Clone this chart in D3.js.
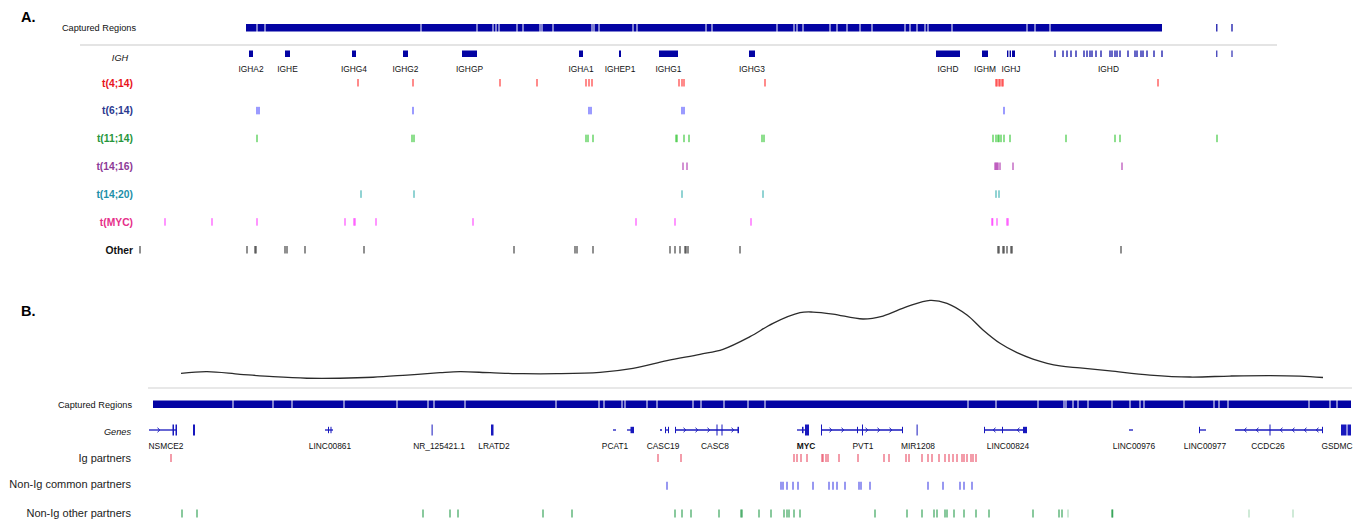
<!DOCTYPE html>
<html>
<head>
<meta charset="utf-8">
<script src="https://cdn.jsdelivr.net/npm/d3@7"></script>
<style>
  body { margin: 0; background: #fff; }
  svg { display: block; font-family: "Liberation Sans", Arial, Helvetica, sans-serif; }
</style>
</head>
<body>
<svg id="chart" width="1366" height="523"></svg>
<script>
// ---------------- Panel A: IGH locus (positions in kb from window start) ----------------
const capturedAExtent = [106, 1022];
const capturedAGaps = [117, 125, 281, 337, 353, 356, 359, 377, 383, 400, 402, 413, 452, 454, 459, 493, 497,
  566, 572, 637, 654, 657, 663, 690, 697, 707, 720, 732, 765, 770, 777, 785, 788, 812, 887, 895, 910];
const capturedAExtra = [[1076.2, 1077.4], [1091.4, 1092.6]];

const ighGeneNames = ["IGHA2", "IGHE", "IGHG4", "IGHG2", "IGHGP", "IGHA1", "IGHEP1", "IGHG1", "IGHG3", "IGHD", "IGHM", "IGHJ", "IGHD"];
const ighGeneSegments = [
  [[109, 113]], [[145, 150]], [[212, 216]], [[263, 268]], [[322, 337]], [[439, 443]], [[479, 481]],
  [[519, 538]], [[609, 615]], [[796, 820]], [[842, 848]],
  [[867, 868.4], [869.6, 871], [872, 875]],
  [915, 923, 927, 931, 936, 944, 947, 950, 952, 956, 961, 970, 972, 975, 977, 980, 988, 995, 997, 1001, 1003, 1007, 1014, 1022].map(v => [v - 0.6, v + 0.6])
];
const ighExtraSegments = [[1076.3, 1077.3], [1091.5, 1092.5]];

const translocationGroups = ["t(4;14)", "t(6;14)", "t(11;14)", "t(14;16)", "t(14;20)", "t(MYC)", "Other"];
const groupLabelColors = ["#e8141c", "#2b3990", "#27963c", "#8e3a97", "#1d8fa8", "#e6308a", "#111111"];
const groupTickColors = ["#ff2a2a", "#4747ff", "#2fc42f", "#ad35ad", "#35adad", "#ff3cff", "#333333"];
const breaks_t4_14 = [218, 273, 360, 397, 446, 449, 452, 539, 542, 544, 625, 856, 857, 859, 860, 862, 863, 1018];
const breaks_t6_14 = [117, 119, 273, 449, 451, 542, 544, 864];
const breaks_t11_14 = [117, 272, 274, 446, 448, 453, 536, 537, 544, 549, 622, 624, 853, 856, 858, 859, 861, 864, 870, 926, 975, 980, 1077];
const breaks_t14_16 = [543, 547, 855, 856, 857, 858, 860, 873, 982];
const breaks_t14_20 = [221, 274, 542, 623, 856, 859];
const breaks_tMYC = [25, 72, 117, 205, 214, 215, 236, 333, 496, 535, 611, 852, 852.6, 857, 867, 868];
const breaks_other = [0, 107, 115, 116, 145, 147, 165, 224, 374, 435, 437, 453, 530, 535, 540, 545, 546, 548, 600,
  858, 859, 863, 864, 867, 871, 872, 981];
const groupBreaks = [breaks_t4_14, breaks_t6_14, breaks_t11_14, breaks_t14_16, breaks_t14_20, breaks_tMYC, breaks_other];

// ---------------- Panel B: MYC region (positions in kb from window start) ----------------
const densityPos = [33, 59, 92, 125, 159, 192, 225, 259, 292, 312, 342, 375, 409, 452, 485, 519, 552, 575, 602, 625,
  652, 665, 685, 715, 735, 759, 782, 799, 819, 835, 852, 869, 885, 912, 932, 962, 1002, 1042, 1082, 1122, 1152, 1175];
const densityVal = [0.117, 0.136, 0.105, 0.076, 0.057, 0.057, 0.069, 0.096, 0.124, 0.136, 0.124, 0.112, 0.112, 0.129,
  0.177, 0.269, 0.346, 0.406, 0.558, 0.719, 0.847, 0.855, 0.831, 0.771, 0.807, 0.919, 0.996, 0.960, 0.819, 0.639,
  0.478, 0.365, 0.289, 0.205, 0.181, 0.145, 0.096, 0.072, 0.084, 0.090, 0.084, 0.066];

const capturedBExtent = [5, 1203];
const capturedBGaps = [85, 125, 144, 196, 249, 280, 286, 317, 408, 451, 456, 474, 477, 499, 509, 545, 553, 576, 600, 617,
  820, 848, 890, 916, 918, 925, 930, 940, 964, 982, 992, 996, 1036, 1066, 1071, 1080, 1161, 1182, 1189];

const regionGeneNames = ["NSMCE2", "LINC00861", "NR_125421.1", "LRATD2", "PCAT1", "CASC19", "CASC8", "MYC", "PVT1",
  "MIR1208", "LINC00824", "LINC00976", "LINC00977", "CCDC26", "GSDMC"];
const regionGeneLabelPos = [18, 182, 291, 346, 467, 515, 567, 658, 715, 770, 860, 986, 1057, 1120, 1189];
const regionGeneStrand = ["+", "+", "+", "+", "-", "+", "+", "+", "+", "+", "-", "+", "+", "-", "-"];
const regionGeneIntrons = [
  [[1, 29]], [[177, 185]], [], [], [[465, 468], [479, 486]], [[512, 514], [517, 521]], [[527, 591]], [[649, 661]],
  [[673, 755]], [], [[836, 879]], [[981, 985]], [[1051, 1058]], [[1087, 1175]], []
];
const regionGeneExons = [
  [[24.5, 26, "cds"], [27.5, 29, "cds"], [45, 47, "cds"]],
  [[180, 181, "utr"], [182.5, 183.5, "utr"]],
  [[283.6, 284.4, "cds"]],
  [[343, 345.5, "cds"]],
  [[482.5, 486, "utr"]],
  [[517, 518, "utr"], [520, 521, "utr"]],
  [[527, 528, "utr"], [568.5, 569.5, "cds"], [573.5, 574.5, "cds"], [589.5, 591, "utr"]],
  [[654, 655.5, "utr"], [657, 661, "cds"]],
  [[673, 674, "cds"], [709, 710, "utr"], [714, 715, "cds"], [754, 755, "utr"]],
  [[768.6, 769.6, "cds"]],
  [[836, 837, "utr"], [854, 855, "utr"], [875, 879, "utr"]],
  [],
  [[1051, 1052, "utr"]],
  [[1121.5, 1122.5, "cds"], [1174, 1175, "utr"]],
  [[1193, 1198.5, "cds"], [1199.5, 1203, "cds"]]
];

const partnerGroups = ["Ig partners", "Non-Ig common partners", "Non-Ig other partners"];
const partnerColors = ["#e8455f", "#3c3ce6", "#1f9a46"];
const breaks_ig = [23, 510, 533, 646, 649, 653, 659, 674, 675, 678, 680, 691, 710, 736, 741, 758, 761, 774, 780, 784,
  791, 797, 801, 805, 809, 814, 816, 819, 823, 825, 828];
const breaks_nonIgCommon = [519, 633, 635, 639, 645, 650, 665, 681, 685, 689, 697, 711, 713, 722, 780, 795, 812, 816, 824];
const breaks_nonIgOther = [34, 49, 275, 302, 310, 395, 424, 527, 534, 543, 571, 593, 594, 611, 623, 636, 639, 641, 646,
  652, 727, 759, 774, 786, 789, 797, 799, 806, 816, 828, 841, 885, 911, 914, 964, 964.6];
const breaks_nonIgOtherSingle = [920, 1101, 1145];
const partnerBreaks = [breaks_ig, breaks_nonIgCommon, breaks_nonIgOther];

// ---------------- drawing ----------------
const svg = d3.select("#chart");
const BLUE = "#0303a3";
const GENE_BLUE = "#1717bd";

const xA = d3.scaleLinear().domain([0, 1200]).range([140, 1340]);
const xB = d3.scaleLinear().domain([0, 1204]).range([148, 1352]);
const yDensity = d3.scaleLinear().domain([0, 1]).range([383, 300]);

function intervalsFromGaps(extent, gaps) {
  const pts = [extent[0], ...gaps, extent[1]];
  return d3.pairs(pts).map(([a, b], i) => [i === 0 ? a : a + 0.5, i === pts.length - 2 ? b : b - 0.5]);
}

// Panel titles
svg.append("text").attr("x", 21).attr("y", 22).attr("font-size", 14.5).attr("font-weight", "bold").text("A.");
svg.append("text").attr("x", 21).attr("y", 316).attr("font-size", 14.5).attr("font-weight", "bold").text("B.");

// ----- Panel A -----
const gA = svg.append("g");
gA.append("text").attr("x", 136).attr("y", 27.5).attr("dy", "0.35em").attr("text-anchor", "end")
  .attr("font-size", 9.2).attr("fill", "#111").text("Captured Regions");

const capA = intervalsFromGaps(capturedAExtent, capturedAGaps).concat(capturedAExtra);
gA.append("g").selectAll("rect").data(capA).join("rect")
  .attr("x", d => xA(d[0])).attr("width", d => Math.max(0.8, xA(d[1]) - xA(d[0])))
  .attr("y", 24).attr("height", 7.5).attr("fill", BLUE);

gA.append("line").attr("x1", 80).attr("x2", 1277).attr("y1", 45).attr("y2", 45)
  .attr("stroke", "#e4e4e4").attr("stroke-width", 2);

gA.append("text").attr("x", 120).attr("y", 57.5).attr("dy", "0.35em").attr("text-anchor", "middle")
  .attr("font-size", 9.2).attr("font-style", "italic").attr("fill", "#111").text("IGH");

const ighGenes = ighGeneNames.map((name, i) => ({ name, segs: ighGeneSegments[i] }));
const ighG = gA.append("g");
ighGenes.forEach(g => {
  ighG.append("g").selectAll("rect").data(g.segs).join("rect")
    .attr("x", d => xA(d[0])).attr("width", d => Math.max(0.9, xA(d[1]) - xA(d[0])))
    .attr("y", 50.5).attr("height", 6.5).attr("fill", BLUE);
  const lo = d3.min(g.segs, d => d[0]), hi = d3.max(g.segs, d => d[1]);
  ighG.append("text").attr("x", xA((lo + hi) / 2)).attr("y", 69.5).attr("dy", "0.35em")
    .attr("text-anchor", "middle").attr("font-size", 8.4).attr("fill", "#111").text(g.name);
});
ighG.append("g").selectAll("rect").data(ighExtraSegments).join("rect")
  .attr("x", d => xA(d[0])).attr("width", d => xA(d[1]) - xA(d[0]))
  .attr("y", 50.5).attr("height", 6.5).attr("fill", BLUE);

const yRowA = d3.scalePoint().domain(translocationGroups).range([83, 250]);
translocationGroups.forEach((grp, i) => {
  const cy = yRowA(grp);
  gA.append("text").attr("x", 133).attr("y", cy).attr("dy", "0.35em").attr("text-anchor", "end")
    .attr("font-size", 10.3).attr("font-weight", "bold").attr("fill", groupLabelColors[i]).text(grp);
  gA.append("g").selectAll("rect").data(groupBreaks[i]).join("rect")
    .attr("x", d => xA(d) - 0.75).attr("width", 1.5)
    .attr("y", cy - 4).attr("height", 7.5)
    .attr("fill", groupTickColors[i]).attr("fill-opacity", 0.72);
});

// ----- Panel B -----
const gB = svg.append("g");
const densityLine = d3.line().x(d => xB(d[0])).y(d => yDensity(d[1])).curve(d3.curveCatmullRom.alpha(0.5));
gB.append("path").datum(d3.zip(densityPos, densityVal)).attr("d", densityLine)
  .attr("fill", "none").attr("stroke", "#2b2b2b").attr("stroke-width", 1.3);

gB.append("line").attr("x1", 148).attr("x2", 1352).attr("y1", 388).attr("y2", 388)
  .attr("stroke", "#e0e0e0").attr("stroke-width", 1.5);

gB.append("text").attr("x", 132).attr("y", 404.5).attr("dy", "0.35em").attr("text-anchor", "end")
  .attr("font-size", 9.2).attr("fill", "#111").text("Captured Regions");
gB.append("g").selectAll("rect").data(intervalsFromGaps(capturedBExtent, capturedBGaps)).join("rect")
  .attr("x", d => xB(d[0])).attr("width", d => Math.max(0.8, xB(d[1]) - xB(d[0])))
  .attr("y", 400.5).attr("height", 7.5).attr("fill", BLUE);

gB.append("text").attr("x", 131).attr("y", 432).attr("dy", "0.35em").attr("text-anchor", "end")
  .attr("font-size", 9.2).attr("font-style", "italic").attr("fill", "#111").text("Genes");

const geneY = 430;
const exonHalf = { cds: 5.5, utr: 3.2 };
const geneG = gB.append("g");
regionGeneNames.forEach((name, i) => {
  const introns = regionGeneIntrons[i], exons = regionGeneExons[i];
  geneG.append("g").selectAll("line").data(introns).join("line")
    .attr("x1", d => xB(d[0])).attr("x2", d => xB(d[1])).attr("y1", geneY).attr("y2", geneY)
    .attr("stroke", GENE_BLUE).attr("stroke-width", 1.3);
  geneG.append("g").selectAll("rect").data(exons).join("rect")
    .attr("x", d => xB(d[0])).attr("width", d => Math.max(1, xB(d[1]) - xB(d[0])))
    .attr("y", d => geneY - exonHalf[d[2]]).attr("height", d => 2 * exonHalf[d[2]])
    .attr("fill", GENE_BLUE);
  // strand chevrons along longer introns, kept clear of exons
  const dir = regionGeneStrand[i] === "+" ? 1 : -1;
  introns.filter(d => d[1] - d[0] > 20).forEach(([s, e]) => {
    d3.range(s + 10, e - 4, 12)
      .filter(p => !exons.some(ex => p > ex[0] - 4 && p < ex[1] + 4))
      .forEach(p => {
        const px = xB(p);
        geneG.append("path")
          .attr("d", `M${px - 1.5 * dir},${geneY - 2.2}L${px + 0.8 * dir},${geneY}L${px - 1.5 * dir},${geneY + 2.2}`)
          .attr("fill", "none").attr("stroke", GENE_BLUE).attr("stroke-width", 1);
      });
  });
  geneG.append("text").attr("x", xB(regionGeneLabelPos[i])).attr("y", 446.5).attr("dy", "0.35em")
    .attr("text-anchor", "middle").attr("font-size", 8.4)
    .attr("font-weight", name === "MYC" ? "bold" : "normal").attr("fill", "#111").text(name);
});

const yRowB = d3.scalePoint().domain(partnerGroups).range([458, 513.5]);
partnerGroups.forEach((grp, i) => {
  const cy = yRowB(grp);
  gB.append("text").attr("x", 131).attr("y", cy - (i === 1 ? 2 : 0)).attr("dy", "0.35em").attr("text-anchor", "end")
    .attr("font-size", 11).attr("fill", "#222").text(grp);
  gB.append("g").selectAll("rect").data(partnerBreaks[i]).join("rect")
    .attr("x", d => xB(d) - 0.7).attr("width", 1.4)
    .attr("y", cy - 4).attr("height", 8)
    .attr("fill", partnerColors[i]).attr("fill-opacity", 0.75);
});
gB.append("g").selectAll("rect").data(breaks_nonIgOtherSingle).join("rect")
  .attr("x", d => xB(d) - 0.7).attr("width", 1.4)
  .attr("y", yRowB(partnerGroups[2]) - 4).attr("height", 8)
  .attr("fill", partnerColors[2]).attr("fill-opacity", 0.3);
</script>
</body>
</html>
